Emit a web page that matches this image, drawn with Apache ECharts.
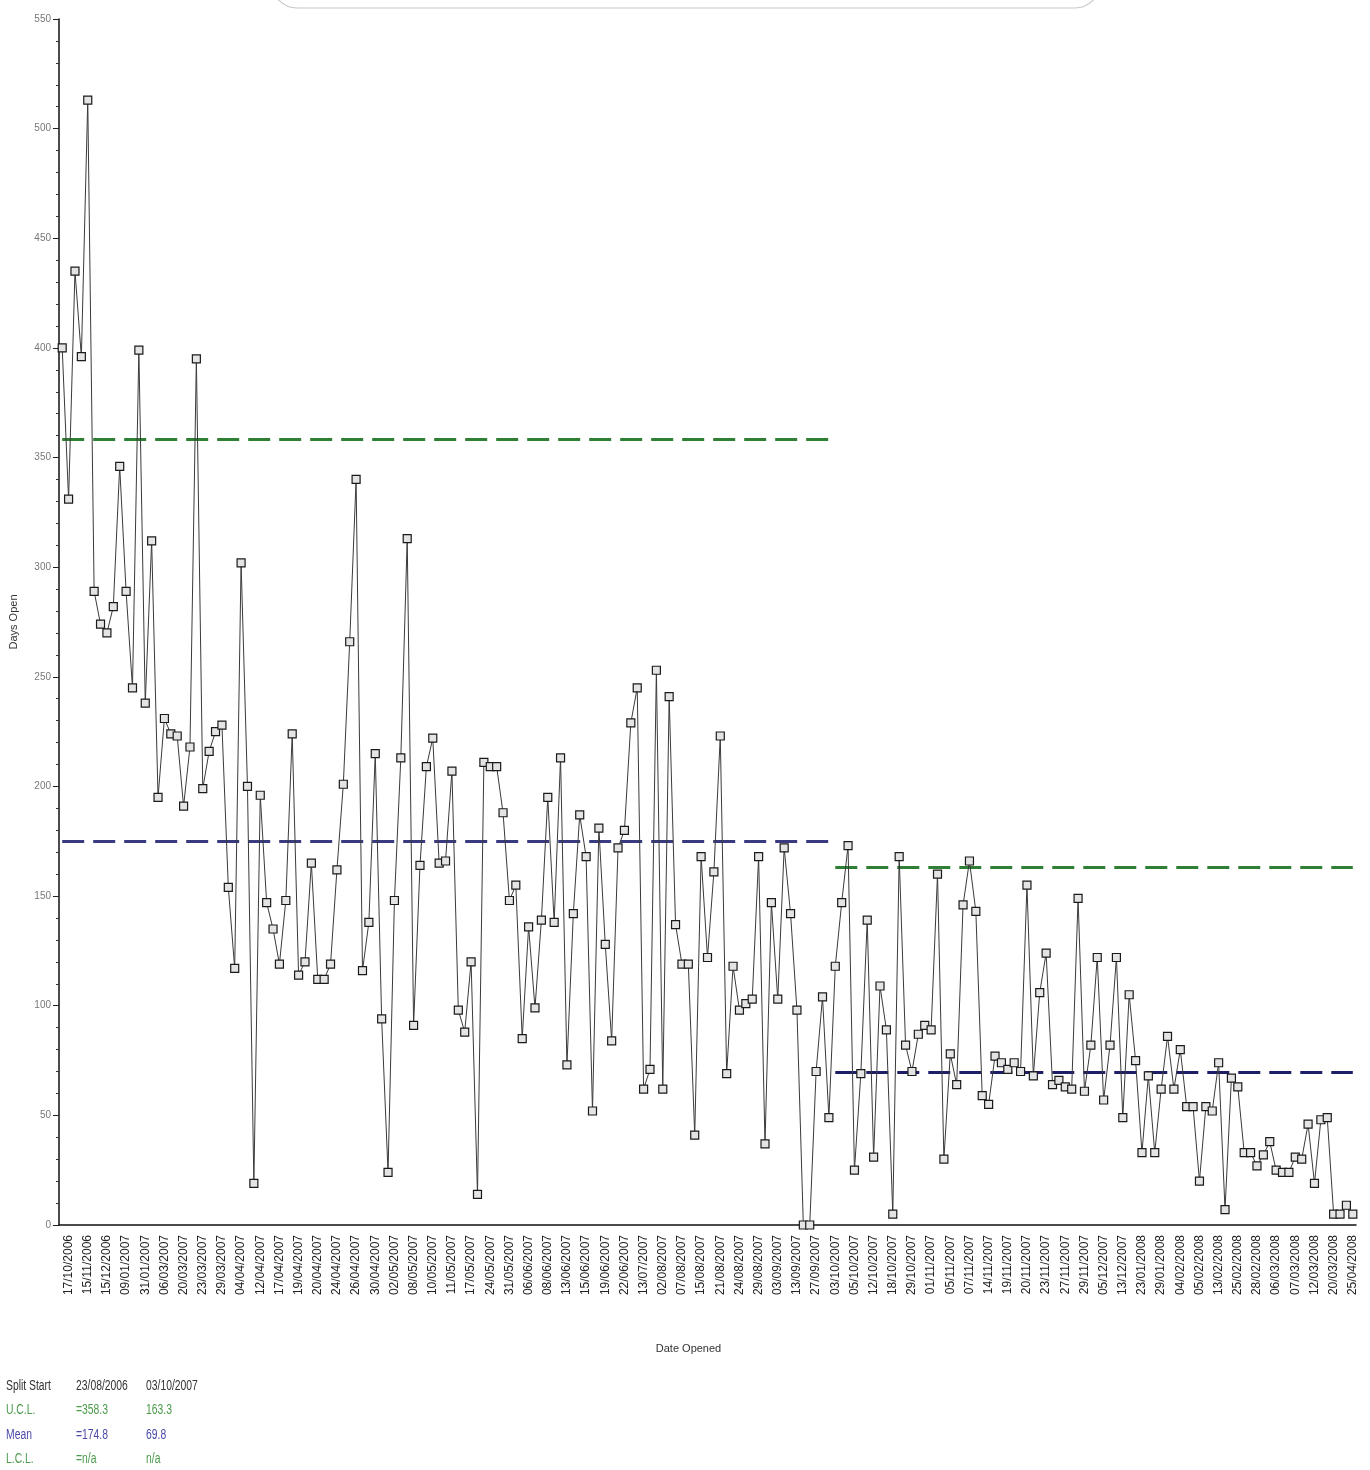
<!DOCTYPE html>
<html>
<head>
<meta charset="utf-8">
<script src="https://cdn.jsdelivr.net/npm/echarts@6/dist/echarts.min.js"></script>
<style>
html,body{margin:0;padding:0;background:#fff;}
#chart{width:1370px;height:1470px;}
</style>
</head>
<body>
<div id="chart"></div>
<script>
// Tick labels shown on the x axis (every 3rd point, starting at point index 1)
var tickLabels = [
 '17/10/2006','15/11/2006','15/12/2006','09/01/2007','31/01/2007','06/03/2007','20/03/2007','23/03/2007',
 '29/03/2007','04/04/2007','12/04/2007','17/04/2007','19/04/2007','20/04/2007','24/04/2007','26/04/2007',
 '30/04/2007','02/05/2007','08/05/2007','10/05/2007','11/05/2007','17/05/2007','24/05/2007','31/05/2007',
 '06/06/2007','08/06/2007','13/06/2007','15/06/2007','19/06/2007','22/06/2007','13/07/2007','02/08/2007',
 '07/08/2007','15/08/2007','21/08/2007','24/08/2007','29/08/2007','03/09/2007','13/09/2007','27/09/2007',
 '03/10/2007','05/10/2007','12/10/2007','18/10/2007','29/10/2007','01/11/2007','05/11/2007','07/11/2007',
 '14/11/2007','19/11/2007','20/11/2007','23/11/2007','27/11/2007','29/11/2007','05/12/2007','13/12/2007',
 '23/01/2008','29/01/2008','04/02/2008','05/02/2008','13/02/2008','25/02/2008','28/02/2008','06/03/2008',
 '07/03/2008','12/03/2008','20/03/2008','25/04/2008'
];

// Days open for each case, in order of date opened
var daysOpen = [
 400,331,435,396,513,289,274,270,282,346,289,245,399,238,312,195,231,224,223,191,218,395,199,216,225,228,154,117,302,200,19,196,147,135,119,
 148,224,114,120,165,112,112,119,162,201,266,340,116,138,215,94,24,148,213,313,91,164,209,222,165,166,207,98,88,120,14,211,209,
 209,188,148,155,85,136,99,139,195,138,213,73,142,187,168,52,181,128,84,172,180,229,245,62,71,253,62,241,137,119,119,41,168,
 122,161,223,69,118,98,101,103,168,37,147,103,172,142,98,0,0,70,104,49,
 118,147,173,25,69,139,31,109,89,5,168,82,
 70,87,91,89,160,30,78,64,146,166,143,59,55,77,74,71,74,70,155,68,106,124,64,66,63,62,149,61,82,122,57,82,122,49,
 105,75,33,68,33,62,86,62,80,54,54,20,54,52,74,7,67,63,33,33,27,32,38,25,24,24,31,30,46,19,48,49,5,5,9,5
];

// Control-limit phases
var splitStart = ['23/08/2006', '03/10/2007'];
var splitIndex = [0, 121];
var uclValues = [358.3, 163.3];
var meanValues = [174.8, 69.8];
var lclValues = ['n/a', 'n/a'];
var yTicks = [0, 50, 100, 150, 200, 250, 300, 350, 400, 450, 500, 550];

var categories = daysOpen.map(function (v, i) {
  if (i === 0) return splitStart[0];
  return (i - 1) % 3 === 0 ? tickLabels[(i - 1) / 3] : ' ' + i;
});
var lastIdx = daysOpen.length - 1;

function phaseLine(p, val) {
  var end = p + 1 < splitIndex.length ? splitIndex[p + 1] : lastIdx;
  return [{ coord: [splitIndex[p], val] }, { coord: [end, val] }];
}

var green = '#2f7f35';
var navy1 = '#3a3a80';
var navy2 = '#1e1e66';

var chart = echarts.init(document.getElementById('chart'), null, { renderer: 'canvas' });
var narrow = "'Liberation Sans Narrow','Liberation Sans',Arial,sans-serif";

var tableRows = [
  { name: 'Split Start', a: splitStart[0], b: splitStart[1], color: '#333333' },
  { name: 'U.C.L.', a: '=' + uclValues[0], b: String(uclValues[1]), color: '#4a9a4a' },
  { name: 'Mean', a: '=' + meanValues[0], b: String(meanValues[1]), color: '#4a4aa8' },
  { name: 'L.C.L.', a: '=' + lclValues[0], b: lclValues[1], color: '#4a9a4a' }
];
var graphics = [{
  type: 'rect', silent: true,
  shape: { x: 272, y: -42, width: 828, height: 50, r: 25 },
  style: { fill: 'none', stroke: '#c8c8c8', lineWidth: 1.2 }
}];
tableRows.forEach(function (r, k) {
  var y = 1386 + k * 24.5;
  [[r.name, 6], [r.a, 76], [r.b, 146]].forEach(function (c) {
    graphics.push({
      type: 'text', silent: true, x: c[1], y: y, scaleX: 0.74, scaleY: 1,
      style: { text: c[0], fill: r.color, font: '14px ' + narrow, textVerticalAlign: 'middle' }
    });
  });
});

chart.setOption({
  animation: false,
  backgroundColor: '#ffffff',
  grid: { left: 57, right: 14, top: 19, bottom: 245, containLabel: false },
  xAxis: [{
    type: 'category',
    data: categories,
    boundaryGap: true,
    name: 'Date Opened',
    nameLocation: 'middle',
    nameGap: 118,
    nameTextStyle: { fontSize: 11, color: '#333', fontFamily: narrow, padding: [0, 38, 0, 0] },
    axisLine: { lineStyle: { color: '#111', width: 1.5 } },
    axisTick: { interval: 0, length: 4, lineStyle: { color: '#222' } },
    axisLabel: {
      interval: function (i) { return i > 0 && (i - 1) % 3 === 0; },
      rotate: 90, fontSize: 12, color: '#222', margin: 10, fontFamily: 'Liberation Sans, Arial, sans-serif'
    },
    splitLine: { show: false }
  }, {
    type: 'category',
    data: categories,
    boundaryGap: true,
    position: 'bottom',
    axisLine: { show: false },
    axisTick: { interval: function (i) { return i > 0 && (i - 1) % 3 === 0; }, length: 7, lineStyle: { color: '#222' } },
    axisLabel: { show: false },
    splitLine: { show: false }
  }],
  yAxis: {
    type: 'value',
    min: yTicks[0],
    max: yTicks[yTicks.length - 1],
    interval: 50,
    name: 'Days Open',
    nameLocation: 'middle',
    nameGap: 40,
    nameTextStyle: { fontSize: 11, color: '#333', fontFamily: narrow },
    axisLine: { show: true, lineStyle: { color: '#111', width: 1.5 } },
    axisTick: { show: true, length: 6, lineStyle: { color: '#222' } },
    minorTick: { show: true, splitNumber: 5, length: 3, lineStyle: { color: '#333' } },
    axisLabel: { fontSize: 10, color: '#777', margin: 8, fontFamily: narrow },
    splitLine: { show: false }
  },
  graphic: graphics,
  series: [{
    type: 'line',
    data: daysOpen,
    xAxisIndex: 0,
    symbol: 'rect',
    symbolSize: 8,
    showAllSymbol: true,
    lineStyle: { color: '#3a3a3a', width: 1 },
    itemStyle: { color: '#e4e4e4', borderColor: '#1a1a1a', borderWidth: 1.2 },
    z: 3,
    markLine: {
      silent: true,
      symbol: 'none',
      label: { show: false },
      z: 2,
      data: [
        phaseLine(0, uclValues[0]),
        phaseLine(0, meanValues[0]),
        phaseLine(1, uclValues[1]),
        phaseLine(1, meanValues[1])
      ].map(function (seg, k) {
        var col = (k % 2 === 0) ? green : (k === 1 ? navy1 : navy2);
        seg[0].lineStyle = { color: col, width: 3, type: [22, 9] };
        return seg;
      })
    }
  }]
});
</script>
</body>
</html>
